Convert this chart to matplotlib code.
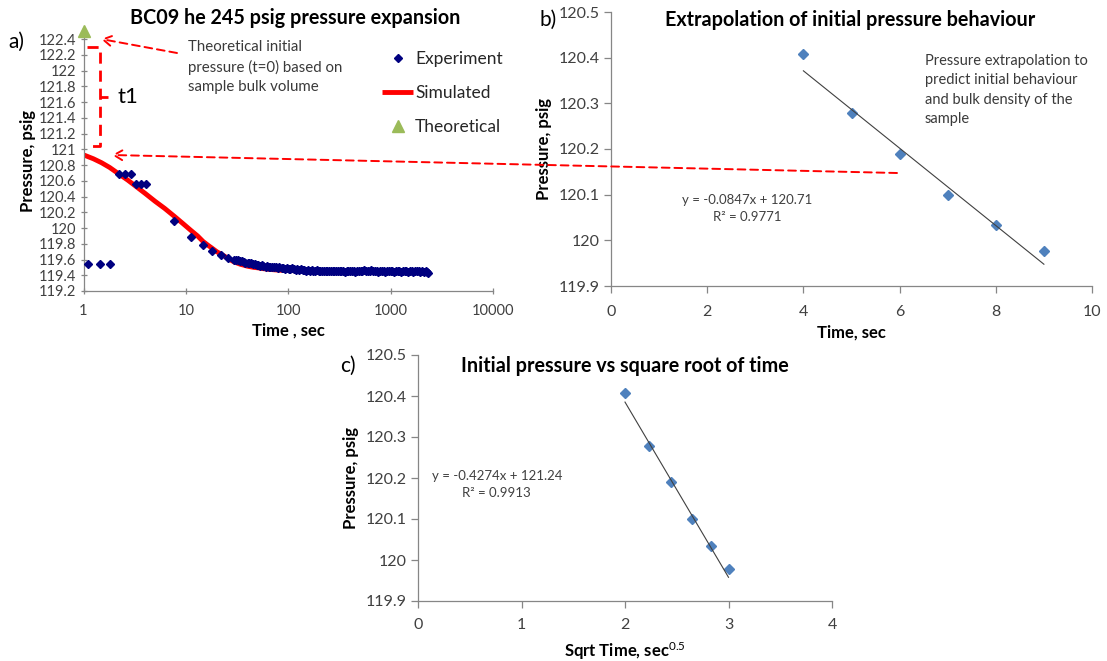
import matplotlib
matplotlib.use("Agg")
import matplotlib.pyplot as plt
from matplotlib.lines import Line2D
from matplotlib.patches import FancyArrowPatch
from matplotlib.ticker import FixedLocator, FuncFormatter, NullLocator

plt.rcParams["font.family"] = ["Lato", "DejaVu Sans"]
plt.rcParams["mathtext.fontset"] = "custom"
plt.rcParams["mathtext.rm"] = "Lato"
plt.rcParams["mathtext.default"] = "rm"

# ---- panel a: pressure expansion (log time) ----
# early readings
exp_time = [1.1, 1.45, 1.8, 2.2, 2.55, 2.9, 3.25, 3.65, 4.05, 7.7, 11.2, 14.7,
            18.2, 21.9, 26, 29.5]
exp_pres = [119.54, 119.54, 119.54, 120.69, 120.69, 120.69, 120.56, 120.56,
            120.56, 120.09, 119.88, 119.79, 119.71, 119.66, 119.62, 119.60]
# dense tail of the experiment
tail_time = [31, 32, 34, 35, 37, 38, 40, 41, 43, 45,
             47, 49, 51, 53, 55, 57, 60, 62, 65, 67,
             70, 73, 76, 79, 82, 86, 89, 93, 97, 101,
             105, 109, 113, 118, 123, 128, 133, 138, 144, 150,
             156, 162, 169, 175, 183, 190, 198, 206, 214, 223,
             232, 241, 251, 261, 271, 282, 294, 305, 318, 330,
             344, 358, 372, 387, 403, 419, 436, 453, 472, 491,
             510, 531, 552, 575, 598, 622, 647, 673, 700, 728,
             757, 788, 819, 852, 887, 922, 959, 998, 1038, 1080,
             1123, 1168, 1215, 1264, 1315, 1368, 1423, 1480, 1539, 1601,
             1665, 1732, 1802, 1874, 1949, 2028, 2109, 2194, 2250, 2300]
tail_pres = [119.60, 119.59, 119.58, 119.58, 119.57, 119.56, 119.56, 119.55, 119.55, 119.54,
             119.54, 119.53, 119.53, 119.52, 119.53, 119.52, 119.51, 119.52, 119.51, 119.50,
             119.51, 119.50, 119.50, 119.49, 119.50, 119.49, 119.49, 119.48, 119.49, 119.48,
             119.48, 119.49, 119.48, 119.47, 119.48, 119.47, 119.48, 119.47, 119.47, 119.46,
             119.47, 119.46, 119.47, 119.46, 119.46, 119.47, 119.46, 119.45, 119.46, 119.46,
             119.45, 119.46, 119.46, 119.45, 119.46, 119.45, 119.45, 119.46, 119.45, 119.46,
             119.45, 119.44, 119.46, 119.45, 119.45, 119.46, 119.45, 119.44, 119.45, 119.46,
             119.45, 119.46, 119.47, 119.46, 119.45, 119.46, 119.47, 119.46, 119.45, 119.45,
             119.44, 119.45, 119.46, 119.45, 119.44, 119.45, 119.45, 119.46, 119.45, 119.44,
             119.45, 119.46, 119.45, 119.44, 119.45, 119.46, 119.45, 119.44, 119.45, 119.45,
             119.44, 119.45, 119.46, 119.45, 119.44, 119.45, 119.44, 119.45, 119.44, 119.43]

sim_time = [1, 1.25, 1.5, 1.8, 2.2, 2.7, 3.25, 4, 5, 6.2, 7.7, 9.3, 11.2, 13,
            14.7, 16.5, 18.2, 20, 21.9, 24, 26, 29.5, 34, 40, 46, 50, 56, 65,
            80, 100, 150, 200, 500, 1000, 2300]
sim_pres = [120.93, 120.88, 120.83, 120.77, 120.69, 120.61, 120.53, 120.44,
            120.34, 120.25, 120.15, 120.06, 119.97, 119.90, 119.83, 119.78,
            119.74, 119.70, 119.67, 119.64, 119.61, 119.57, 119.54, 119.515,
            119.50, 119.495, 119.485, 119.475, 119.465, 119.46, 119.455,
            119.45, 119.45, 119.45, 119.45]

theo_time = [1]
theo_pres = [122.5]

# ---- panels b and c: first seconds ----
fit_time = [4, 5, 6, 7, 8, 9]
fit_sqrt = [2.0, 2.236, 2.449, 2.646, 2.828, 3.0]
fit_pres = [120.408, 120.278, 120.19, 120.10, 120.033, 119.977]

b_slope, b_icpt = -0.0847, 120.71
c_slope, c_icpt = -0.4274, 121.24

W, H = 1107, 661
fig = plt.figure(figsize=(W / 100, H / 100), dpi=100)


def box(left, top, right, bottom):
    return [left / W, 1 - bottom / H, (right - left) / W, (bottom - top) / H]


def fp(x, y):
    return (x / W, 1 - y / H)


AXIS_GREY = "#868686"
TICK_TXT = "#404040"


def excel_style(ax, size, direction="out"):
    for s in ("top", "right"):
        ax.spines[s].set_visible(False)
    for s in ("left", "bottom"):
        ax.spines[s].set_color(AXIS_GREY)
        ax.spines[s].set_linewidth(0.9)
    ax.tick_params(direction=direction, length=5, width=0.9, color=AXIS_GREY,
                   labelcolor=TICK_TXT, labelsize=size, pad=3)


def one_dec(v, _):
    return f"{round(v, 1):g}"


# panel a
ax_a = fig.add_axes(box(83.5, 31.3, 493, 291))
excel_style(ax_a, 10.5, "inout")
ax_a.tick_params(axis="x", pad=7)
ax_a.set_xscale("log")
ax_a.set_xlim(1, 10000)
ax_a.set_ylim(119.2, 122.5)
ax_a.xaxis.set_major_locator(FixedLocator([1, 10, 100, 1000, 10000]))
ax_a.xaxis.set_minor_locator(NullLocator())
ax_a.xaxis.set_major_formatter(FuncFormatter(lambda v, _: f"{v:g}"))
ax_a.yaxis.set_major_locator(FixedLocator([119.2 + 0.2 * i for i in range(17)]))
ax_a.yaxis.set_major_formatter(FuncFormatter(one_dec))
ax_a.plot(sim_time, sim_pres, color="#FF0000", lw=3.5, label="Simulated",
          zorder=2, solid_capstyle="butt")
ax_a.plot(exp_time + tail_time, exp_pres + tail_pres, ls="none", marker="D",
          ms=3.7, color="#000080", mec="#000080", label="Experiment", zorder=3)
ax_a.plot(theo_time, theo_pres, ls="none", marker="^", ms=8, color="#9BBB59",
          label="Theoretical", clip_on=False, zorder=4)
ax_a.set_xlabel("Time , sec", fontsize=12, fontweight="bold", labelpad=3)
ax_a.set_ylabel("Pressure, psig", fontsize=12, fontweight="bold", labelpad=2)
fig.text(*fp(295, 18), "BC09 he 245 psig pressure expansion", fontsize=14.2,
         fontweight="bold", ha="center", va="center")

h, l = ax_a.get_legend_handles_labels()
order = [1, 0, 2]
ax_a.legend([h[i] for i in order], [l[i] for i in order], loc="upper left",
            bbox_to_anchor=fp(382, 51), bbox_transform=fig.transFigure,
            frameon=False, fontsize=12.5, handlelength=1.8, handletextpad=0.1,
            labelspacing=1.05, borderpad=0, borderaxespad=0, labelcolor="#262626")

# panel b
ax_b = fig.add_axes(box(611, 12, 1092, 286))
excel_style(ax_b, 11.5)
ax_b.tick_params(axis="x", pad=9)
ax_b.set_xlim(0, 10)
ax_b.set_ylim(119.9, 120.5)
ax_b.xaxis.set_major_locator(FixedLocator([0, 2, 4, 6, 8, 10]))
ax_b.yaxis.set_major_locator(FixedLocator([119.9 + 0.1 * i for i in range(7)]))
ax_b.yaxis.set_major_formatter(FuncFormatter(one_dec))
ax_b.plot(fit_time, fit_pres, ls="none", marker="D", ms=5.5, color="#4F81BD")
ax_b.plot([fit_time[0], fit_time[-1]],
          [b_icpt + b_slope * fit_time[0], b_icpt + b_slope * fit_time[-1]],
          color="#404040", lw=0.8)
ax_b.set_xlabel("Time, sec", fontsize=12, fontweight="bold", labelpad=4)
ax_b.set_ylabel("Pressure, psig", fontsize=12, fontweight="bold", labelpad=5)
fig.text(*fp(850, 20), "Extrapolation of initial pressure behaviour",
         fontsize=14.2, fontweight="bold", ha="center", va="center")
fig.text(*fp(747, 200), f"y = {b_slope}x + {b_icpt}", fontsize=9.5,
         color="#404040", ha="center", va="center")
fig.text(*fp(747, 217), "R² = 0.9771", fontsize=9.5, color="#404040",
         ha="center", va="center")
fig.text(*fp(925, 90), "Pressure extrapolation to\npredict initial behaviour\n"
         "and bulk density of the\nsample", fontsize=10.5, color="#3a3a3a",
         ha="left", va="center", linespacing=1.5)

# panel c
ax_c = fig.add_axes(box(418, 355, 832, 601))
excel_style(ax_c, 11.5)
ax_c.tick_params(axis="x", pad=7)
ax_c.set_xlim(0, 4)
ax_c.set_ylim(119.9, 120.5)
ax_c.xaxis.set_major_locator(FixedLocator([0, 1, 2, 3, 4]))
ax_c.yaxis.set_major_locator(FixedLocator([119.9 + 0.1 * i for i in range(7)]))
ax_c.yaxis.set_major_formatter(FuncFormatter(one_dec))
ax_c.plot(fit_sqrt, fit_pres, ls="none", marker="D", ms=5.5, color="#4F81BD")
ax_c.plot([fit_sqrt[0], fit_sqrt[-1]],
          [c_icpt + c_slope * fit_sqrt[0], c_icpt + c_slope * fit_sqrt[-1]],
          color="#404040", lw=0.8)
ax_c.set_xlabel("Sqrt Time, sec$^{0.5}$", fontsize=12, fontweight="bold",
                labelpad=6)
ax_c.set_ylabel("Pressure, psig", fontsize=12, fontweight="bold", labelpad=5)
fig.text(*fp(625, 366), "Initial pressure vs square root of time",
         fontsize=14.2, fontweight="bold", ha="center", va="center")
fig.text(*fp(497, 476), f"y = {c_slope}x + {c_icpt}", fontsize=9.5,
         color="#404040", ha="center", va="center")
fig.text(*fp(496, 493), "R² = 0.9913", fontsize=9.5, color="#404040",
         ha="center", va="center")

# panel letters
for letter, (x, y) in (("a)", (16, 42)), ("b)", (548, 20)), ("c)", (348, 366))):
    fig.text(*fp(x, y), letter, fontsize=15, ha="center", va="center")

# red dashed annotations
dash = (0, (4, 2.5))
fig.text(*fp(188, 67), "Theoretical initial\npressure (t=0) based on\n"
         "sample bulk volume", fontsize=10.8, color="#3a3a3a", ha="left",
         va="center", linespacing=1.45)
fig.add_artist(Line2D([87 / W, 100 / W, 100 / W, 87 / W],
                      [1 - 46.7 / H, 1 - 46.7 / H, 1 - 145.7 / H, 1 - 145.7 / H],
                      color="#FF0000", lw=2, ls=dash))
fig.add_artist(Line2D([100 / W, 108 / W], [1 - 96.7 / H, 1 - 96.7 / H],
                      color="#FF0000", lw=2, ls=dash))
fig.text(*fp(117, 97), "t1", fontsize=16, ha="left", va="center")
for tail, tip in (((177, 53), (101, 39)), ((897, 173), (112, 155))):
    fig.add_artist(FancyArrowPatch(
        fp(*tail), fp(*tip), transform=fig.transFigure,
        arrowstyle="->,head_length=6,head_width=3.5", color="#FF0000", lw=1.4,
        ls=dash, shrinkA=0, shrinkB=0))

fig.savefig("out.png", dpi=100)
